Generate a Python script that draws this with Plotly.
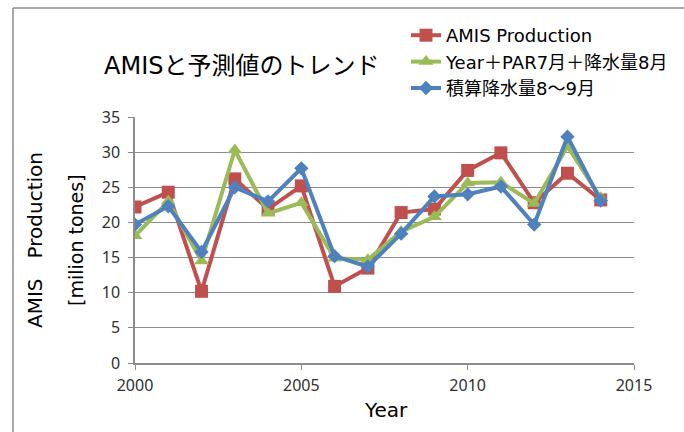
import plotly.graph_objects as go

years = list(range(2000, 2015))
amis = [22.2, 24.3, 10.2, 26.2, 21.9, 25.2, 10.9, 13.5, 21.4, 21.9, 27.4, 29.9, 22.8, 27.0, 23.2]
model_par = [18.1, 23.0, 14.5, 30.3, 21.3, 22.8, 14.9, 14.7, 18.7, 20.8, 25.6, 25.7, 22.7, 30.8, 23.5]
model_rain = [19.7, 22.3, 15.8, 25.0, 23.0, 27.7, 15.2, 13.7, 18.4, 23.7, 24.0, 25.1, 19.7, 32.2, 23.1]

names = ["AMIS Production", "Year＋PAR7月＋降水量8月", "積算降水量8～9月"]
colors = ["#C0504D", "#9BBB59", "#4F81BD"]
symbols = ["square", "triangle-up", "diamond"]
msizes = [13, 13, 11]
title_text = "AMISと予測値のトレンド"
ytitle1 = "AMIS　Production"
ytitle2 = "[milion tones]"
xtitle = "Year"

FONT = "DejaVu Sans, Noto Sans CJK JP, sans-serif"
TICKFONT = "Noto Sans, Noto Sans CJK JP, sans-serif"

L, R, T, B = 135, 50, 117, 69
W, H = 684, 432
pw, ph = W - L - R, H - T - B

def px(x):
    return (x - L) / pw

def py(y):
    return (H - B - y) / ph

fig = go.Figure()
for i, vals in enumerate([amis, model_par, model_rain]):
    fig.add_trace(go.Scatter(
        x=years, y=vals, name=names[i], mode="lines+markers",
        line=dict(color=colors[i], width=4),
        marker=dict(symbol=symbols[i], size=msizes[i], color=colors[i]),
        legendgroup=str(i),
    ))

grid = "#8C8C8C"
fig.update_layout(
    width=W, height=H,
    margin=dict(l=L, r=R, t=T, b=B, autoexpand=False),
    paper_bgcolor="white", plot_bgcolor="white",
    showlegend=True,
    legend=dict(x=px(406), y=py(17), xanchor="left", yanchor="top",
                font=dict(family=FONT, size=18, color="#000000"),
                bgcolor="rgba(0,0,0,0)", traceorder="grouped", tracegroupgap=0),
    xaxis=dict(range=[2000, 2015], dtick=5, tick0=2000, showgrid=False,
               showline=True, linecolor=grid, linewidth=1.5,
               ticks="outside", ticklen=5, tickcolor=grid, ticklabelstandoff=2,
               tickfont=dict(family=TICKFONT, size=16, color="#303030"), zeroline=False),
    yaxis=dict(range=[0, 35], dtick=5, showgrid=True, gridcolor=grid, gridwidth=1.3,
               showline=True, linecolor=grid, linewidth=1.5,
               ticks="outside", ticklen=5, tickcolor=grid, ticklabelstandoff=5,
               tickfont=dict(family=TICKFONT, size=16, color="#303030"), zeroline=False),
    annotations=[
        dict(text=title_text, xref="paper", yref="paper", x=px(102), y=py(66),
             xanchor="left", yanchor="middle", showarrow=False,
             font=dict(family=FONT, size=24, color="#000000")),
        dict(text=ytitle1, xref="paper", yref="paper", x=px(35), y=py(240),
             xanchor="center", yanchor="middle", textangle=-90, showarrow=False,
             font=dict(family=FONT, size=20, color="#000000")),
        dict(text=ytitle2, xref="paper", yref="paper", x=px(76), y=py(240),
             xanchor="center", yanchor="middle", textangle=-90, showarrow=False,
             font=dict(family=FONT, size=19, color="#000000")),
        dict(text=xtitle, xref="paper", yref="paper", x=px(386), y=py(410),
             xanchor="center", yanchor="middle", showarrow=False,
             font=dict(family=FONT, size=20, color="#000000")),
    ],
    shapes=[
        dict(type="line", xref="paper", yref="paper", x0=px(13), x1=px(700), y0=py(8), y1=py(8),
             line=dict(color="#8C8C8C", width=1.5), layer="above"),
        dict(type="line", xref="paper", yref="paper", x0=px(13), x1=px(13), y0=py(8), y1=py(440),
             line=dict(color="#8C8C8C", width=1.5), layer="above"),
    ],
)

fig.write_html("out.html")
